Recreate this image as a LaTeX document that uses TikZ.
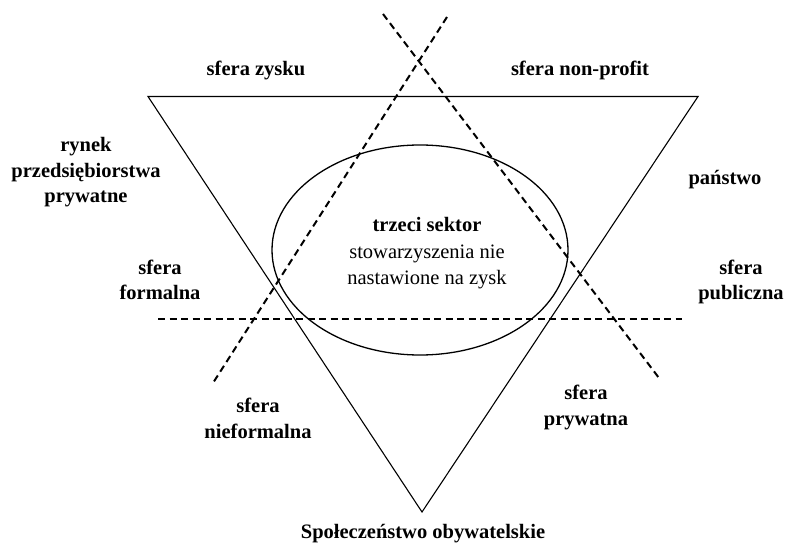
\documentclass[tikz,border=0pt]{standalone}
\usepackage{fontspec}
\setmainfont{Liberation Serif}
\usetikzlibrary{shapes.geometric}

\begin{document}
\begin{tikzpicture}[x=1pt, y=-1pt,
    sferatext/.style={font=\bfseries\fontsize{20.5}{25.5}\selectfont, align=center, anchor=base, inner sep=0pt},
    plaintext/.style={font=\fontsize{20.5}{26.5}\selectfont, align=center, anchor=base, inner sep=0pt},
    border/.style={line width=1.1pt},
    divider/.style={line width=2pt, dash pattern=on 7pt off 4.5pt}
]
    \useasboundingbox (0,0) rectangle (787,545);

    % triangle
    \coordinate (tl) at (148,96.5);
    \coordinate (tr) at (698,96.5);
    \coordinate (bt) at (422,512);
    \draw[border] (tl) -- (tr) -- (bt) -- cycle;

    % dividing lines
    \coordinate (a1) at (383,14);
    \coordinate (a2) at (659,378);
    \coordinate (b1) at (447,17);
    \coordinate (b2) at (213,383);
    \coordinate (h1) at (158,319);
    \coordinate (h2) at (682,319);
    \draw[divider] (a1) -- (a2);
    \draw[divider] (b1) -- (b2);
    \draw[divider] (h1) -- (h2);

    % third sector (base = last line)
    \node[draw, ellipse, line width=1.3pt, minimum width=296pt, minimum height=210pt] (sektor) at (420,250) {};
    \node[plaintext] (sektortxt) at (427,285) {\textbf{trzeci sektor}\\stowarzyszenia nie\\nastawione na zysk};

    \node[sferatext] (zysk) at (256,76) {sfera zysku};
    \node[sferatext] (nonprofit) at (580,76) {sfera non-profit};
    \node[sferatext] (rynek) at (86,203) {rynek\\przedsiębiorstwa\\prywatne};
    \node[sferatext] (panstwo) at (725,185) {państwo};
    \node[sferatext] (formalna) at (160,300) {sfera\\formalna};
    \node[sferatext] (publiczna) at (741,300) {sfera\\publiczna};
    \node[sferatext] (nieformalna) at (258,438) {sfera\\nieformalna};
    \node[sferatext] (prywatna) at (586,425) {sfera\\prywatna};
    \node[sferatext] (obyw) at (423,538) {Społeczeństwo obywatelskie};
\end{tikzpicture}
\end{document}
